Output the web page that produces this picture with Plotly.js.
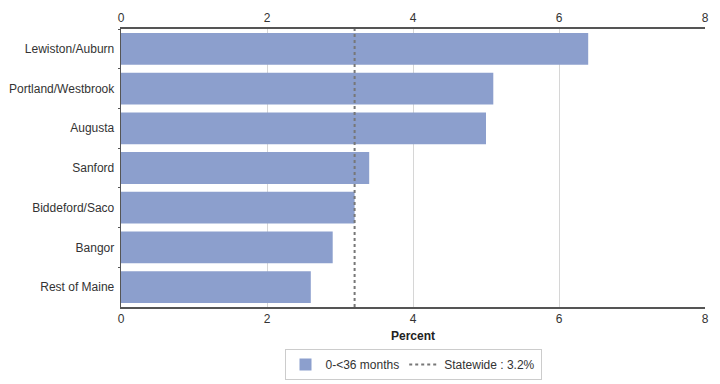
<!DOCTYPE html>
<html><head><meta charset="utf-8">
<script src="https://cdn.plot.ly/plotly-3.0.1.min.js"></script>
<style>html,body{margin:0;padding:0;background:#fff}#chart{width:720px;height:384px}</style>
</head><body><div id="chart"></div>
<script>
const regions = ["Lewiston/Auburn","Portland/Westbrook","Augusta","Sanford","Biddeford/Saco","Bangor","Rest of Maine"];
const percent = [6.4, 5.1, 5.0, 3.4, 3.2, 2.9, 2.6];
const statewide = 3.2;
const seriesName = "0-<36 months";
const xTicks = [0, 2, 4, 6, 8];

const font = {family: "Liberation Sans, Arial, sans-serif", size: 12, color: "#333"};
const traces = [
  {type: "bar", orientation: "h", x: percent, y: regions, name: seriesName,
   marker: {color: "#8c9fcd", line: {color: "#8c9fcd", width: 0}}, width: 0.8,
   hoverinfo: "x+y"},
  {type: "scatter", mode: "lines", x: [statewide], y: [regions[0]], xaxis: "x2",
   name: "Statewide : " + statewide + "%", line: {color: "#777", width: 2, dash: "dot"}}
];
const axisCommon = {range: [0, 8], tickvals: xTicks, ticktext: xTicks.map(String),
  showgrid: true, gridcolor: "#d6d6d6", gridwidth: 1, zeroline: false,
  showline: true, linecolor: "#555", linewidth: 2, ticks: "", tickfont: font, fixedrange: true};
const layout = {
  width: 720, height: 384,
  margin: {l: 121, r: 15, t: 29, b: 77, autoexpand: false},
  paper_bgcolor: "#fff", plot_bgcolor: "#fff",
  font: font,
  showlegend: true,
  xaxis: Object.assign({}, axisCommon, {side: "bottom",
    title: {text: "<b>Percent</b>", font: {family: font.family, size: 12, color: "#222"}, standoff: 6}}),
  xaxis2: Object.assign({}, axisCommon, {side: "top", overlaying: "x", matches: "x"}),
  yaxis: {type: "category", autorange: "reversed", showgrid: false, zeroline: false,
    showline: true, linecolor: "#555", linewidth: 1, layer: "below traces",
    ticks: "outside", tickson: "boundaries", ticklen: 2, tickcolor: "#555",
    tickfont: font, ticksuffix: " ", fixedrange: true},
  shapes: [{type: "line", xref: "x", yref: "paper", x0: statewide, x1: statewide, y0: 0, y1: 1,
    line: {color: "#777", width: 2, dash: "dot"}, layer: "above"}],
  legend: {orientation: "h", x: 0.5, xanchor: "center", y: -0.151, yanchor: "top",
    bordercolor: "#ccc", borderwidth: 1, font: font, itemwidth: 30, tracegroupgap: 0}
};
Plotly.newPlot("chart", traces, layout, {displayModeBar: false, staticPlot: true});
</script></body></html>
